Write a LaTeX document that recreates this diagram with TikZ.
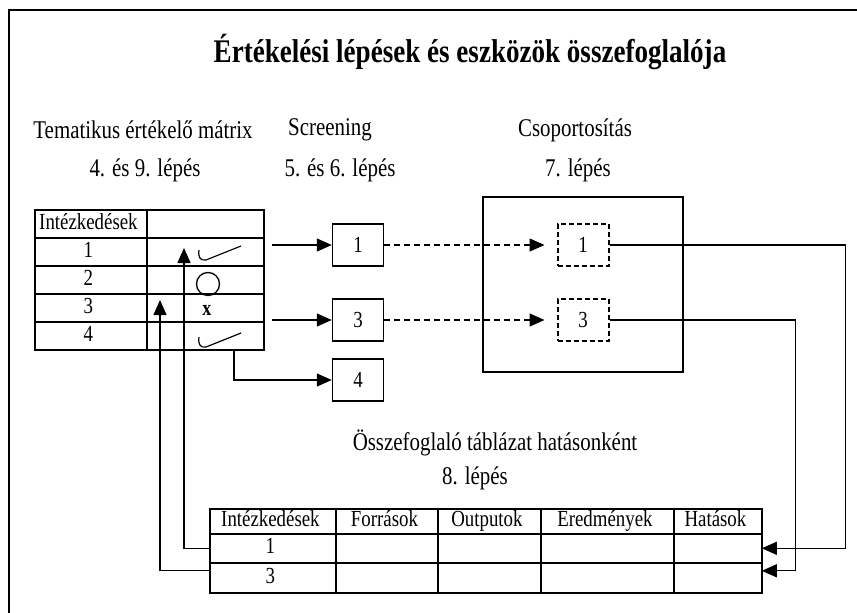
\documentclass[tikz,border=0pt]{standalone}
\usepackage{fontspec}
\setmainfont{Liberation Serif}[FakeStretch=0.82]
\usetikzlibrary{%
  positioning,
  calc,
  matrix,
  arrows.meta,
}

\begin{document}
\begin{tikzpicture}[
    x=1pt, y=-1pt,
    font=\fontsize{23pt}{27pt}\selectfont,
    every text node part/.style={align=center},
    heading/.style={font=\fontsize{25.5pt}{30pt}\selectfont},
    % the connectors:
    arr/.style={-{Triangle[length=15pt,width=13pt]}, line width=1.3pt},
    dasharr/.style={arr, dash pattern=on 6pt off 4pt, shorten >=12pt},
    % the boxes:
    stepbox/.style={
      rectangle,
      draw,
      line width=1.5pt,
      minimum width=51pt,
      minimum height=42pt,
      inner sep=0pt,
    },
    groupbox/.style={stepbox, line width=2pt, dash pattern=on 5pt off 3pt},
    % the tables:
    table/.style={matrix of nodes, nodes in empty cells, anchor=north west,
      inner sep=0pt, outer sep=0pt, column sep=-1.6pt, row sep=-1.6pt},
    cell/.style={
      rectangle,
      draw,
      line width=1.6pt,
      inner sep=0pt,
      text height=15pt,
      text depth=4pt,
    },
    scribble/.pic={
      \draw[line width=1.2pt] (0,0) .. controls (-1,7) and (1,11) .. (7,10) -- (42,-4);
    },
  ]

  \useasboundingbox (0,0) rectangle (857,613);
  \draw[line width=2pt] (857,10) -- (9,10) -- (9,613);

  \node[font=\bfseries\fontsize{33pt}{38pt}\selectfont] (title) at (470,52)
    {Értékelési lépések és eszközök összefoglalója};

  \node[heading] (matrixhd) at (143,130) {Tematikus értékelő mátrix};
  \node[heading] (matrixstep) at (145,170) {4. és 9. lépés};
  \node[heading] (screenhd) at (330,130) {Screening};
  \node[heading] (screenstep) at (340,170) {5. és 6. lépés};
  \node[heading] (grouphd) at (575,130) {Csoportosítás};
  \node[heading] (groupstep) at (578,170) {7. lépés};
  \node[heading] (summaryhd) at (495,443) {Összefoglaló táblázat hatásonként};
  \node[heading] (summarystep) at (475,478) {8. lépés};

  % thematic matrix
  \matrix (tm) [table,
      nodes={cell, minimum height=28pt},
      column 1/.style={nodes={minimum width=112pt}},
      column 2/.style={nodes={minimum width=117pt}}] at (34,209) {
    Intézkedések & \\
    1 & \\
    2 & \\
    3 & \\
    4 & \\
  };
  \pic at (199,250) {scribble};
  \node[draw, circle, line width=1.3pt, minimum size=23pt, inner sep=0pt] (circ) at (208,284) {};
  \node[font=\bfseries\fontsize{22pt}{26pt}\selectfont] (xmark) at (207,310) {x};
  \pic at (199,337) {scribble};

  % summary table
  \matrix (bt) [table,
      nodes={cell},
      column 1/.style={nodes={minimum width=126pt}},
      column 2/.style={nodes={minimum width=102pt}},
      column 3/.style={nodes={minimum width=103pt}},
      column 4/.style={nodes={minimum width=133pt}},
      column 5/.style={nodes={minimum width=88pt}},
      row 1/.style={nodes={minimum height=25pt}},
      row 2/.style={nodes={minimum height=29pt}},
      row 3/.style={nodes={minimum height=30pt}}] at (209,508) {
    Intézkedések & Források & Outputok & Eredmények & Hatások \\
    1 & & & & \\
    3 & & & & \\
  };

  % screening
  \node[stepbox] (s1) at (358,245) {1};
  \node[stepbox] (s3) at (358,320) {3};
  \node[stepbox] (s4) at (358,380) {4};

  % grouping
  \node[draw, line width=1.5pt, minimum width=200pt, minimum height=175pt] (grp) at (583,284.5) {};
  \node[groupbox] (d1) at (583,245) {1};
  \node[groupbox] (d3) at (583,320) {3};

  \draw[arr] ($(s1.west -| tm.east)+(7,0)$) -- (s1.west);
  \draw[arr] ($(s3.west -| tm.east)+(7,0)$) -- (s3.west);
  \coordinate (c4) at (234,350);
  \draw[arr] (c4) |- (s4.west);

  \draw[dasharr] (s1) -- (d1);
  \draw[dasharr] (s3) -- (d3);

  \draw[arr] (d1.east) -| ($(bt-2-5.east)+(84,0)$) -- (bt-2-5.east);
  \draw[arr] (d3.east) -| ($(bt-3-5.east)+(34,-7)$) -- ($(bt-3-5.east)+(0,-7)$);

  % back to the matrix
  \coordinate (u1) at (184,248);
  \coordinate (u3) at (160,300);
  \draw[arr] (bt-2-1.west) -| (u1);
  \draw[arr] ($(bt-3-1.west)+(0,-7)$) -| (u3);
\end{tikzpicture}
\end{document}
